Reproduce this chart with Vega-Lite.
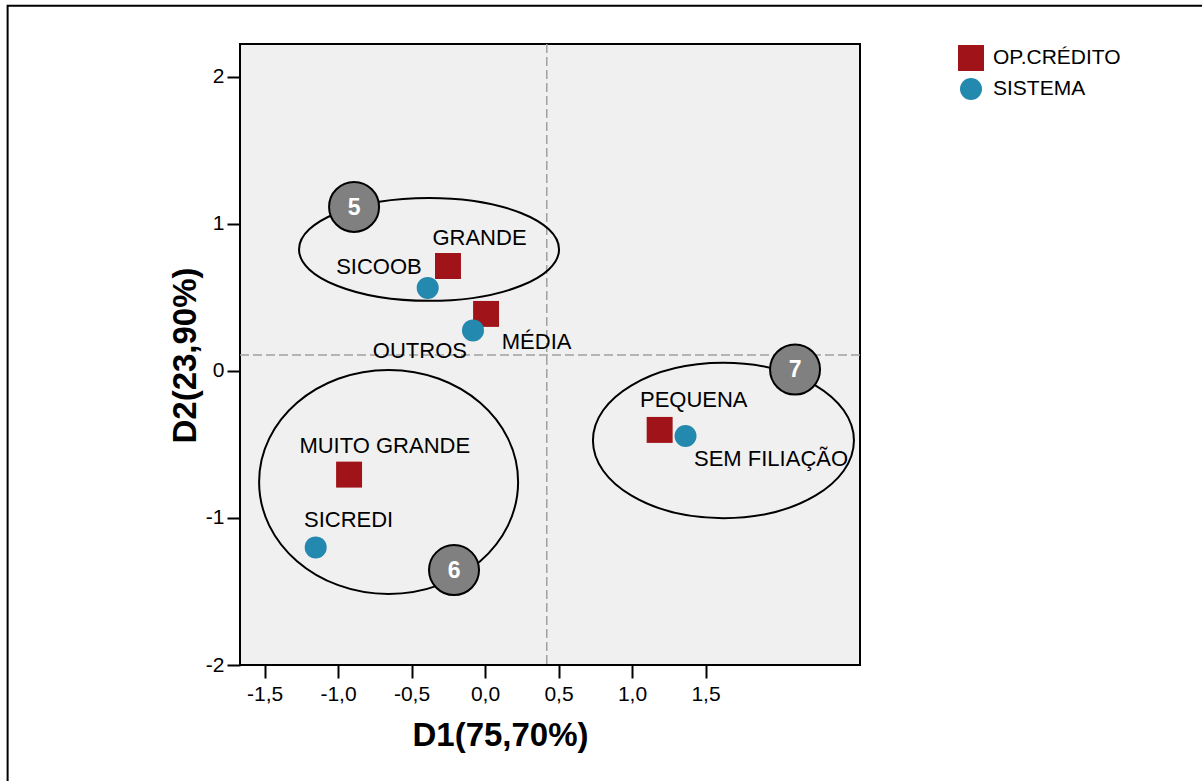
{
  "$schema": "https://vega.github.io/schema/vega-lite/v6.json",
  "width": 620,
  "height": 621,
  "autosize": {"type": "none"},
  "padding": {"left": 240, "top": 44, "right": 342, "bottom": 116},
  "background": "white",
  "config": {
    "locale": {"number": {"decimal": ",", "thousands": ".", "grouping": [3], "currency": ["", ""], "minus": "-"}},
    "view": {"fill": "#F0F0F0", "stroke": "black", "strokeWidth": 2},
    "font": "Liberation Sans",
    "axis": {
      "grid": false, "domain": false, "tickColor": "black", "tickWidth": 2, "tickSize": 13,
      "labelFont": "Liberation Sans", "labelFontSize": 21, "labelColor": "black",
      "titleFont": "Liberation Sans", "titleFontSize": 33, "titleFontWeight": "bold", "titleColor": "black"
    }
  },
  "datasets": {
    "pontos": [
      {"rotulo": "GRANDE", "tipo": "OP.CRÉDITO", "d1": -0.252, "d2": 0.714},
      {"rotulo": "MÉDIA", "tipo": "OP.CRÉDITO", "d1": 0.007, "d2": 0.388},
      {"rotulo": "MUITO GRANDE", "tipo": "OP.CRÉDITO", "d1": -0.925, "d2": -0.705},
      {"rotulo": "PEQUENA", "tipo": "OP.CRÉDITO", "d1": 1.188, "d2": -0.401},
      {"rotulo": "SICOOB", "tipo": "SISTEMA", "d1": -0.39, "d2": 0.565},
      {"rotulo": "OUTROS", "tipo": "SISTEMA", "d1": -0.082, "d2": 0.276},
      {"rotulo": "SICREDI", "tipo": "SISTEMA", "d1": -1.152, "d2": -1.2},
      {"rotulo": "SEM FILIAÇÃO", "tipo": "SISTEMA", "d1": 1.364, "d2": -0.443}
    ],
    "elipses": [
      {"grupo": "5", "d1": -0.381, "d2": 0.827},
      {"grupo": "6", "d1": -0.656, "d2": -0.755},
      {"grupo": "7", "d1": 1.622, "d2": -0.473}
    ],
    "selos": [
      {"grupo": "5", "d1": -0.891, "d2": 1.116},
      {"grupo": "6", "d1": -0.211, "d2": -1.354},
      {"grupo": "7", "d1": 2.109, "d2": 0.01}
    ]
  },
  "layer": [
    {
      "data": {"values": [{}]},
      "mark": {"type": "rect", "fill": "white", "fillOpacity": 0, "stroke": "black", "strokeWidth": 2, "clip": false},
      "encoding": {
        "x": {"datum": -3.248, "type": "quantitative"},
        "x2": {"datum": 6},
        "y": {"datum": 2.485, "type": "quantitative"},
        "y2": {"datum": -4}
      }
    },
    {
      "data": {"name": "pontos"},
      "mark": {"type": "point", "opacity": 0},
      "encoding": {
        "x": {"field": "d1", "type": "quantitative",
              "scale": {"domain": [-1.667, 2.551], "nice": false, "zero": false},
              "axis": {"values": [-1.5, -1, -0.5, 0, 0.5, 1, 1.5], "format": ".1f", "labelPadding": 5,
                       "title": "D1(75,70%)", "titleX": 260, "titleY": 80, "titleAlign": "center", "titleBaseline": "alphabetic"}},
        "y": {"field": "d2", "type": "quantitative",
              "scale": {"domain": [-2, 2.224], "nice": false, "zero": false},
              "axis": {"values": [-2, -1, 0, 1, 2], "format": "d", "labelPadding": 3,
                       "title": "D2(23,90%)", "titleX": -45, "titleY": 311, "titleAngle": -90, "titleAlign": "center", "titleBaseline": "alphabetic"}}
      }
    },
    {
      "data": {"values": [{}]},
      "mark": {"type": "rule", "color": "#A0A0A0", "strokeWidth": 1.5, "strokeDash": [9, 4]},
      "encoding": {"x": {"datum": 0.42, "type": "quantitative"}}
    },
    {
      "data": {"values": [{}]},
      "mark": {"type": "rule", "color": "#A0A0A0", "strokeWidth": 1.5, "strokeDash": [9, 4]},
      "encoding": {"y": {"datum": 0.109, "type": "quantitative"}}
    },
    {
      "data": {"name": "elipses"},
      "transform": [{"filter": "datum.grupo === '5'"}],
      "mark": {"type": "point", "filled": false, "opacity": 1, "stroke": "black", "strokeWidth": 2,
               "shape": "M-1,0A1,0.396,0,1,0,1,0A1,0.396,0,1,0,-1,0Z", "size": 67600},
      "encoding": {"x": {"field": "d1", "type": "quantitative"}, "y": {"field": "d2", "type": "quantitative"}}
    },
    {
      "data": {"name": "elipses"},
      "transform": [{"filter": "datum.grupo === '6'"}],
      "mark": {"type": "point", "filled": false, "opacity": 1, "stroke": "black", "strokeWidth": 2,
               "shape": "M-1,0A1,0.865,0,1,0,1,0A1,0.865,0,1,0,-1,0Z", "size": 67081},
      "encoding": {"x": {"field": "d1", "type": "quantitative"}, "y": {"field": "d2", "type": "quantitative"}}
    },
    {
      "data": {"name": "elipses"},
      "transform": [{"filter": "datum.grupo === '7'"}],
      "mark": {"type": "point", "filled": false, "opacity": 1, "stroke": "black", "strokeWidth": 2,
               "shape": "M-1,0A1,0.595,0,1,0,1,0A1,0.595,0,1,0,-1,0Z", "size": 68121},
      "encoding": {"x": {"field": "d1", "type": "quantitative"}, "y": {"field": "d2", "type": "quantitative"}}
    },
    {
      "data": {"name": "selos"},
      "mark": {"type": "point", "shape": "circle", "filled": true, "opacity": 1, "fill": "#808080", "stroke": "black", "strokeWidth": 2, "size": 2500},
      "encoding": {"x": {"field": "d1", "type": "quantitative"}, "y": {"field": "d2", "type": "quantitative"}}
    },
    {
      "data": {"name": "selos"},
      "mark": {"type": "text", "color": "white", "font": "Liberation Sans", "fontSize": 23, "fontWeight": "bold", "align": "center", "baseline": "middle", "dy": 1},
      "encoding": {"x": {"field": "d1", "type": "quantitative"}, "y": {"field": "d2", "type": "quantitative"}, "text": {"field": "grupo"}}
    },
    {
      "data": {"name": "pontos"},
      "mark": {"type": "point", "filled": true, "opacity": 1, "size": 484, "strokeWidth": 0},
      "encoding": {
        "x": {"field": "d1", "type": "quantitative"},
        "y": {"field": "d2", "type": "quantitative"},
        "color": {"field": "tipo", "type": "nominal",
                  "scale": {"domain": ["OP.CRÉDITO", "SISTEMA"], "range": ["#A01419", "#2389AE"]},
                  "legend": {"title": null, "orient": "none", "legendX": 720, "legendY": 3, "padding": 0,
                             "labelFont": "Liberation Sans", "labelFontSize": 21, "labelColor": "black",
                             "symbolSize": 484, "rowPadding": 7, "labelOffset": 11, "symbolStrokeWidth": 0, "symbolOpacity": 1}},
        "shape": {"field": "tipo", "type": "nominal",
                  "scale": {"domain": ["OP.CRÉDITO", "SISTEMA"], "range": ["M-1.18,-1.18L1.18,-1.18L1.18,1.18L-1.18,1.18Z", "circle"]}}
      }
    },
    {
      "data": {"name": "pontos"},
      "transform": [{"filter": "datum.rotulo === 'GRANDE'"}],
      "mark": {"type": "text", "fontSize": 22, "font": "Liberation Sans", "color": "black", "align": "center", "baseline": "alphabetic", "dx": 31.5, "dy": -21},
      "encoding": {"x": {"field": "d1", "type": "quantitative"}, "y": {"field": "d2", "type": "quantitative"}, "text": {"field": "rotulo"}}
    },
    {
      "data": {"name": "pontos"},
      "transform": [{"filter": "datum.rotulo === 'SICOOB'"}],
      "mark": {"type": "text", "fontSize": 22, "font": "Liberation Sans", "color": "black", "align": "right", "baseline": "alphabetic", "dx": -6, "dy": -14},
      "encoding": {"x": {"field": "d1", "type": "quantitative"}, "y": {"field": "d2", "type": "quantitative"}, "text": {"field": "rotulo"}}
    },
    {
      "data": {"name": "pontos"},
      "transform": [{"filter": "datum.rotulo === 'MÉDIA'"}],
      "mark": {"type": "text", "fontSize": 22, "font": "Liberation Sans", "color": "black", "align": "left", "baseline": "alphabetic", "dx": 15.7, "dy": 35},
      "encoding": {"x": {"field": "d1", "type": "quantitative"}, "y": {"field": "d2", "type": "quantitative"}, "text": {"field": "rotulo"}}
    },
    {
      "data": {"name": "pontos"},
      "transform": [{"filter": "datum.rotulo === 'OUTROS'"}],
      "mark": {"type": "text", "fontSize": 22, "font": "Liberation Sans", "color": "black", "align": "right", "baseline": "alphabetic", "dx": -6, "dy": 27.5},
      "encoding": {"x": {"field": "d1", "type": "quantitative"}, "y": {"field": "d2", "type": "quantitative"}, "text": {"field": "rotulo"}}
    },
    {
      "data": {"name": "pontos"},
      "transform": [{"filter": "datum.rotulo === 'MUITO GRANDE'"}],
      "mark": {"type": "text", "fontSize": 22, "font": "Liberation Sans", "color": "black", "align": "center", "baseline": "alphabetic", "dx": 35.7, "dy": -22},
      "encoding": {"x": {"field": "d1", "type": "quantitative"}, "y": {"field": "d2", "type": "quantitative"}, "text": {"field": "rotulo"}}
    },
    {
      "data": {"name": "pontos"},
      "transform": [{"filter": "datum.rotulo === 'SICREDI'"}],
      "mark": {"type": "text", "fontSize": 22, "font": "Liberation Sans", "color": "black", "align": "left", "baseline": "alphabetic", "dx": -11.7, "dy": -20},
      "encoding": {"x": {"field": "d1", "type": "quantitative"}, "y": {"field": "d2", "type": "quantitative"}, "text": {"field": "rotulo"}}
    },
    {
      "data": {"name": "pontos"},
      "transform": [{"filter": "datum.rotulo === 'PEQUENA'"}],
      "mark": {"type": "text", "fontSize": 22, "font": "Liberation Sans", "color": "black", "align": "left", "baseline": "alphabetic", "dx": -19.7, "dy": -23.3},
      "encoding": {"x": {"field": "d1", "type": "quantitative"}, "y": {"field": "d2", "type": "quantitative"}, "text": {"field": "rotulo"}}
    },
    {
      "data": {"name": "pontos"},
      "transform": [{"filter": "datum.rotulo === 'SEM FILIAÇÃO'"}],
      "mark": {"type": "text", "fontSize": 22, "font": "Liberation Sans", "color": "black", "align": "left", "baseline": "alphabetic", "dx": 8.5, "dy": 29.8},
      "encoding": {"x": {"field": "d1", "type": "quantitative"}, "y": {"field": "d2", "type": "quantitative"}, "text": {"field": "rotulo"}}
    }
  ]
}
